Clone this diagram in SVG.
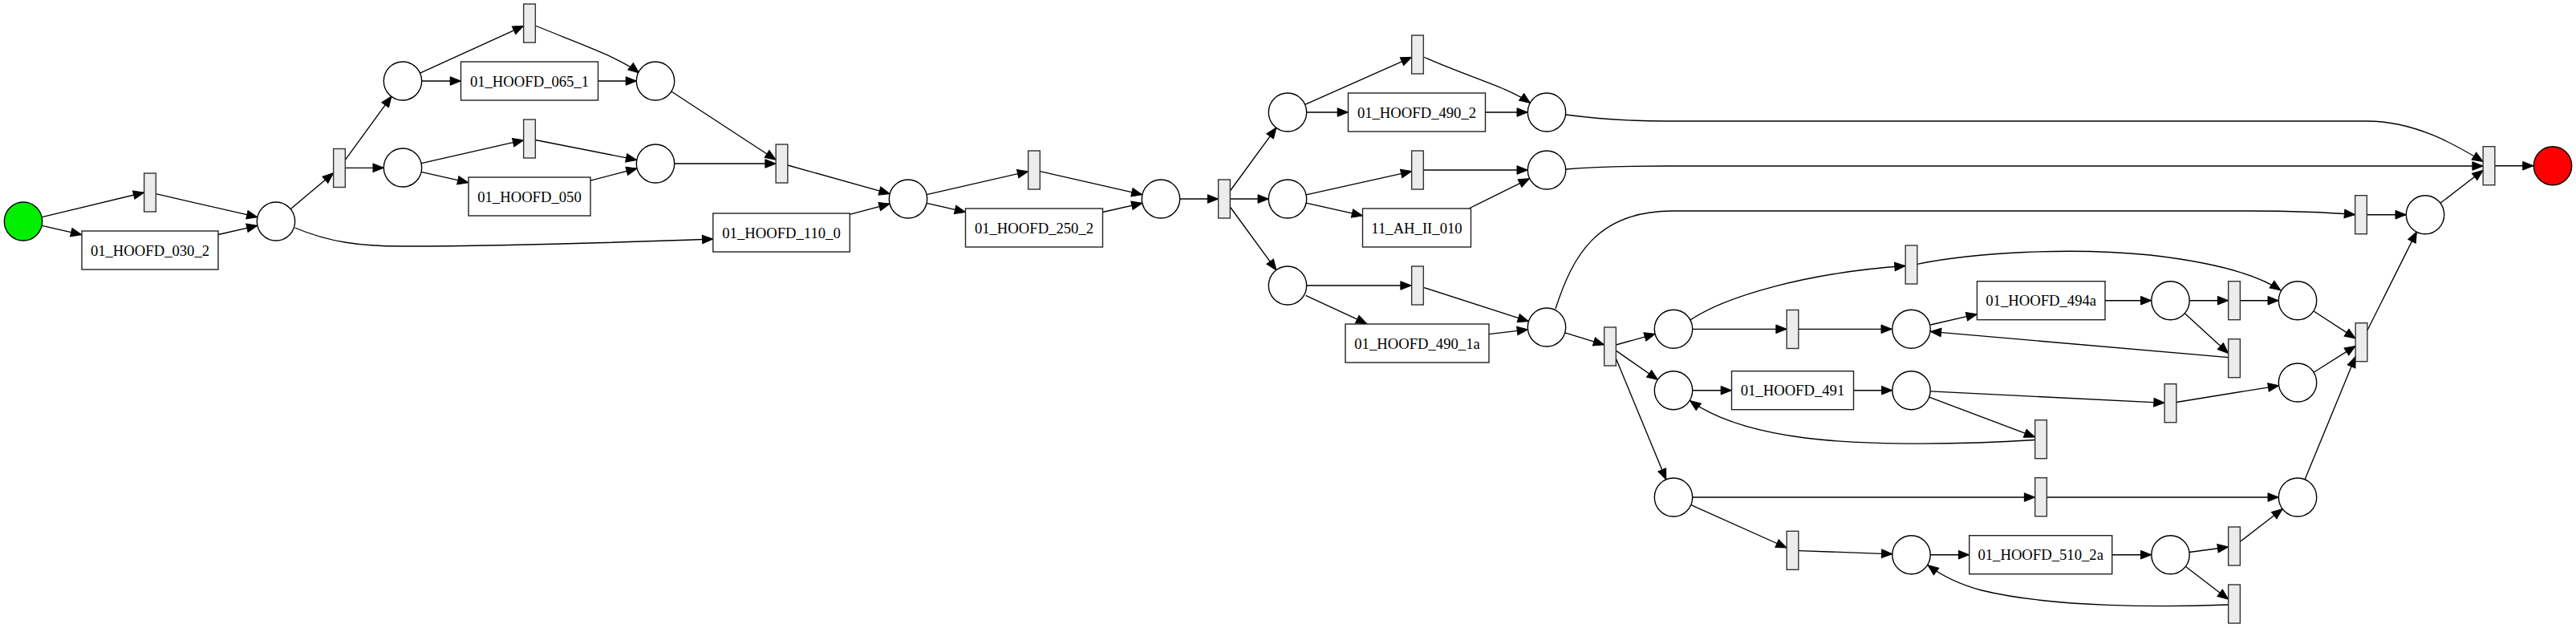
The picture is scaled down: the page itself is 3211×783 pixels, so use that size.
<svg xmlns="http://www.w3.org/2000/svg" width="3211" height="783" viewBox="0 0 3211 783">
<style>
.p{fill:#fff;stroke:#000;stroke-width:1.4}
.t{fill:#ececec;stroke:#333;stroke-width:1.4}
.b{fill:#fff;stroke:#222;stroke-width:1.4}
.l{font-family:"Liberation Serif","Times New Roman",serif;font-size:18.67px;text-anchor:middle;fill:#000}
.e path{fill:none;stroke:#000;stroke-width:1.35;marker-end:url(#a)}
</style>
<defs>
<marker id="a" markerWidth="14" markerHeight="11" refX="13.3" refY="5.3" orient="auto" markerUnits="userSpaceOnUse" overflow="visible">
<path d="M0,0 L13.3,5.3 L0,10.6 z" fill="#000" stroke="#000" stroke-width="1"/>
</marker>
</defs>
<rect width="3211" height="783" fill="#fff"/>
<g class="e" id="connectors">
<path d="M52.4,270.7 L179.6,240"/>
<path d="M52.4,281.3 L101.7,292.6"/>
<path d="M194.3,241.7 L320.9,270.7"/>
<path d="M272,292.5 L320.9,281.3"/>
<path d="M362.1,260.7 L415.6,215.7"/>
<path d="M367.6,284 C410,302 450,307 500,307 C620,307 780,302 888.8,298"/>
<path d="M430.35,199.4 L488,120.1"/>
<path d="M430.35,209.4 L478.3,209.3"/>
<path d="M523.6,91.2 L652.65,32.3"/>
<path d="M525.7,101 L574.5,101"/>
<path d="M667.3,32 C710,50 770,70 796.5,91"/>
<path d="M745.5,101 L793.5,101"/>
<path d="M525.1,203.7 L652.65,174.7"/>
<path d="M525.1,214.3 L583.8,227.7"/>
<path d="M667.35,174.5 L793.7,199.4"/>
<path d="M736,225.2 L794.1,210"/>
<path d="M836.8,114 L967.15,199.2"/>
<path d="M840.7,204 L967.15,204"/>
<path d="M981.85,206 L1109.2,241.6"/>
<path d="M1059.3,267.3 L1109.1,254.1"/>
<path d="M1155.1,242.7 L1281.65,213.7"/>
<path d="M1155.1,253.3 L1203.5,264.4"/>
<path d="M1296.35,213.7 L1423.9,242.7"/>
<path d="M1374.5,264.5 L1423.9,253.3"/>
<path d="M1470.7,248 L1518.65,248"/>
<path d="M1533.35,238 L1591,159.1"/>
<path d="M1533.35,248 L1581.3,248"/>
<path d="M1533.35,258 L1591,336.9"/>
<path d="M1626.7,130.4 L1759.65,71.3"/>
<path d="M1628.7,140 L1680.5,140"/>
<path d="M1774.4,71 C1830,96 1878,108 1907.5,128.5"/>
<path d="M1851.5,140 L1904.3,140"/>
<path d="M1628.1,242.9 L1759.65,213.6"/>
<path d="M1628.1,253.1 L1698.5,268.9"/>
<path d="M1774.35,212 L1904.3,212"/>
<path d="M1831,260 L1906.5,222.7"/>
<path d="M1628.7,356 L1759.15,356"/>
<path d="M1627.5,368.3 L1703.8,403.7"/>
<path d="M1774.35,358.4 L1905.4,400.7"/>
<path d="M1856,416.7 L1904.5,410.8"/>
<path d="M1950.7,414.9 L1999.65,429.8"/>
<path d="M1939,385 C1960,320 1990,263 2085,263 L2800,263 C2860,263 2905,265 2935.65,267.7"/>
<path d="M2014.35,430 L2063.2,416.4"/>
<path d="M2014.35,437.1 L2066.5,473.5"/>
<path d="M2014.35,447 L2076.8,598.1"/>
<path d="M2109.7,410.3 L2227.15,410.3"/>
<path d="M2241.85,410.3 L2358.3,410.3"/>
<path d="M2106.8,399 C2150,370 2250,340 2375.15,331.5"/>
<path d="M2389.85,329.3 C2460,315 2580,308 2680,318 C2750,326 2810,340 2843,362"/>
<path d="M2109.7,486.7 L2158.5,486.7"/>
<path d="M2310.5,486.7 L2358.8,486.7"/>
<path d="M2406.3,405 L2464.4,391.7"/>
<path d="M2777.65,445.7 L2406.3,413.3"/>
<path d="M2624,374.7 L2681.8,374.7"/>
<path d="M2729.2,374.7 L2777.65,374.7"/>
<path d="M2792.35,374.7 L2840.3,374.7"/>
<path d="M2723.1,390.6 L2777.65,440.5"/>
<path d="M2883.8,387.7 L2936.15,421.9"/>
<path d="M2884,464.3 L2936.15,431.4"/>
<path d="M2406.2,487.9 L2698.15,502.3"/>
<path d="M2712.85,501.5 L2840.6,480.8"/>
<path d="M2404.7,495.1 L2536.65,544.9"/>
<path d="M2536.6,548.5 C2450,554 2330,556 2250,546 C2180,537 2135,520 2106.5,499.5"/>
<path d="M2109.7,620 L2536.65,620"/>
<path d="M2551.35,620 L2840.3,620"/>
<path d="M2108,629.7 L2227.15,683"/>
<path d="M2241.85,686.6 L2358.8,690.8"/>
<path d="M2406.2,691.7 L2454.7,691.7"/>
<path d="M2632.7,691.7 L2681.8,691.7"/>
<path d="M2729,688.5 L2777.65,682"/>
<path d="M2792.35,675.3 L2845.2,634.5"/>
<path d="M2724.3,706.2 L2777.65,747.3"/>
<path d="M2777.6,754 C2700,757 2560,758 2470,736 C2440,728 2418,716 2403,704.5"/>
<path d="M2873,598.1 L2936.15,444.6"/>
<path d="M2950.85,412 L3012.4,288.9"/>
<path d="M2950.35,267.7 L2999.3,267.7"/>
<path d="M1951.7,143 C1990,148 2030,151 2077,151 L2950,151 C3010,151 3060,180 3095.2,201.5"/>
<path d="M1951.7,211 C1990,208 2030,207 2077,207 L3095.2,207"/>
<path d="M3041.8,253.3 L3095.15,212.3"/>
<path d="M3109.85,206.7 L3158,206.7"/>
</g>
<g id="start"><ellipse cx="29" cy="276" rx="23.7" ry="24" fill="#00ee00" stroke="#000" stroke-width="1.4"/></g>
<g id="p1"><ellipse class="p" cx="344" cy="276" rx="23.7" ry="24"/></g>
<g id="p2"><ellipse class="p" cx="502" cy="101" rx="23.7" ry="24"/></g>
<g id="p3"><ellipse class="p" cx="502" cy="209" rx="23.7" ry="24"/></g>
<g id="p4"><ellipse class="p" cx="817" cy="101" rx="23.7" ry="24"/></g>
<g id="p5"><ellipse class="p" cx="817" cy="204" rx="23.7" ry="24"/></g>
<g id="p6"><ellipse class="p" cx="1132" cy="248" rx="23.7" ry="24"/></g>
<g id="p7"><ellipse class="p" cx="1447" cy="248" rx="23.7" ry="24"/></g>
<g id="p8"><ellipse class="p" cx="1605" cy="140" rx="23.7" ry="24"/></g>
<g id="p9"><ellipse class="p" cx="1605" cy="248" rx="23.7" ry="24"/></g>
<g id="p10"><ellipse class="p" cx="1605" cy="356" rx="23.7" ry="24"/></g>
<g id="p11"><ellipse class="p" cx="1928" cy="140" rx="23.7" ry="24"/></g>
<g id="p12"><ellipse class="p" cx="1928" cy="212" rx="23.7" ry="24"/></g>
<g id="p16"><ellipse class="p" cx="1928" cy="408" rx="23.7" ry="24"/></g>
<g id="p17"><ellipse class="p" cx="2086" cy="410.3" rx="23.7" ry="24"/></g>
<g id="p18"><ellipse class="p" cx="2086" cy="486.7" rx="23.7" ry="24"/></g>
<g id="p19"><ellipse class="p" cx="2086" cy="620" rx="23.7" ry="24"/></g>
<g id="p20"><ellipse class="p" cx="2382.5" cy="410.3" rx="23.7" ry="24"/></g>
<g id="p21"><ellipse class="p" cx="2382.5" cy="486.7" rx="23.7" ry="24"/></g>
<g id="p22"><ellipse class="p" cx="2382.5" cy="691.7" rx="23.7" ry="24"/></g>
<g id="p14"><ellipse class="p" cx="2705.5" cy="374.7" rx="23.7" ry="24"/></g>
<g id="p15"><ellipse class="p" cx="2864" cy="374.7" rx="23.7" ry="24"/></g>
<g id="p23"><ellipse class="p" cx="2864" cy="477" rx="23.7" ry="24"/></g>
<g id="p24"><ellipse class="p" cx="2864" cy="620" rx="23.7" ry="24"/></g>
<g id="p25"><ellipse class="p" cx="2705.5" cy="691.7" rx="23.7" ry="24"/></g>
<g id="p13"><ellipse class="p" cx="3023" cy="267.7" rx="23.7" ry="24"/></g>
<g id="end"><ellipse cx="3182" cy="206.7" rx="23.7" ry="24" fill="#ff0000" stroke="#000" stroke-width="1.4"/></g>
<g id="t1"><rect class="t" x="179.65" y="216" width="14.7" height="48"/></g>
<g id="t2"><rect class="t" x="415.65" y="185.5" width="14.7" height="48"/></g>
<g id="t3"><rect class="t" x="652.65" y="5" width="14.7" height="48"/></g>
<g id="t4"><rect class="t" x="652.65" y="149" width="14.7" height="48"/></g>
<g id="t5"><rect class="t" x="967.15" y="180" width="14.7" height="48"/></g>
<g id="t6"><rect class="t" x="1281.65" y="188" width="14.7" height="48"/></g>
<g id="t7"><rect class="t" x="1518.65" y="224" width="14.7" height="48"/></g>
<g id="t8"><rect class="t" x="1759.65" y="44" width="14.7" height="48"/></g>
<g id="t9"><rect class="t" x="1759.65" y="188" width="14.7" height="48"/></g>
<g id="t10"><rect class="t" x="1759.65" y="332" width="14.7" height="48"/></g>
<g id="t14"><rect class="t" x="1999.65" y="408" width="14.7" height="48"/></g>
<g id="t15"><rect class="t" x="2227.15" y="386.5" width="14.7" height="48"/></g>
<g id="t12"><rect class="t" x="2375.15" y="306" width="14.7" height="48"/></g>
<g id="t13"><rect class="t" x="2777.65" y="350.7" width="14.7" height="48"/></g>
<g id="t17"><rect class="t" x="2777.65" y="422.7" width="14.7" height="48"/></g>
<g id="t19"><rect class="t" x="2698.15" y="478.7" width="14.7" height="48"/></g>
<g id="t20"><rect class="t" x="2536.65" y="523.7" width="14.7" height="48"/></g>
<g id="t21"><rect class="t" x="2536.65" y="595.7" width="14.7" height="48"/></g>
<g id="t16"><rect class="t" x="2227.15" y="662.3" width="14.7" height="48"/></g>
<g id="t22"><rect class="t" x="2777.65" y="657" width="14.7" height="48"/></g>
<g id="t23"><rect class="t" x="2777.65" y="729" width="14.7" height="48"/></g>
<g id="t18"><rect class="t" x="2936.15" y="402.7" width="14.7" height="48"/></g>
<g id="t11"><rect class="t" x="2935.65" y="243.7" width="14.7" height="48"/></g>
<g id="tf"><rect class="t" x="3095.15" y="182.7" width="14.7" height="48"/></g>
<g id="n030_2"><rect class="b" x="102" y="288" width="170" height="48"/><text class="l" x="187" y="318.5">01_HOOFD_030_2</text></g>
<g id="n065_1"><rect class="b" x="574.5" y="77" width="171" height="48"/><text class="l" x="660" y="107.5">01_HOOFD_065_1</text></g>
<g id="n050"><rect class="b" x="584" y="221" width="152" height="48"/><text class="l" x="660" y="251.5">01_HOOFD_050</text></g>
<g id="n110_0"><rect class="b" x="888.8" y="266" width="170.5" height="48"/><text class="l" x="974" y="296.5">01_HOOFD_110_0</text></g>
<g id="n250_2"><rect class="b" x="1203.5" y="260" width="171" height="48"/><text class="l" x="1289" y="290.5">01_HOOFD_250_2</text></g>
<g id="n490_2"><rect class="b" x="1680.5" y="116" width="171" height="48"/><text class="l" x="1766" y="146.5">01_HOOFD_490_2</text></g>
<g id="n11_AH"><rect class="b" x="1698.5" y="260" width="135" height="48"/><text class="l" x="1766" y="290.5">11_AH_II_010</text></g>
<g id="n490_1a"><rect class="b" x="1677" y="404" width="179" height="48"/><text class="l" x="1766.5" y="434.5">01_HOOFD_490_1a</text></g>
<g id="n491"><rect class="b" x="2158.5" y="462.7" width="152" height="48"/><text class="l" x="2234.5" y="493.2">01_HOOFD_491</text></g>
<g id="n494a"><rect class="b" x="2464.4" y="350.7" width="159.6" height="48"/><text class="l" x="2544.2" y="381.2">01_HOOFD_494a</text></g>
<g id="n510_2a"><rect class="b" x="2454.7" y="667.7" width="178" height="48"/><text class="l" x="2543.7" y="698.2">01_HOOFD_510_2a</text></g>
</svg>
